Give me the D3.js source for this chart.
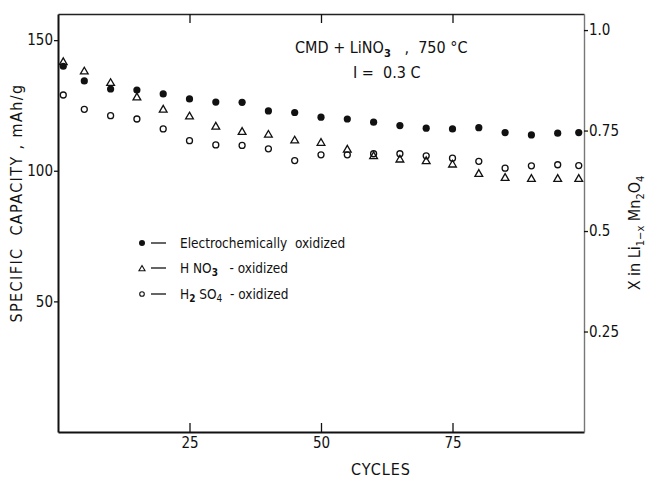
<!DOCTYPE html>
<html>
<head>
<meta charset="utf-8">
<script src="https://cdn.jsdelivr.net/npm/d3@7"></script>
<style>
  body { margin: 0; background: #fff; }
  svg { display: block; }
  text { font-family: "DejaVu Sans Condensed", "Liberation Sans Narrow", sans-serif; fill: #111; white-space: pre; }
</style>
</head>
<body>
<script>
// Cycles at which capacity was measured
var cycles = [1, 5, 10, 15, 20, 25, 30, 35, 40, 45, 50, 55, 60, 65, 70, 75, 80, 85, 90, 95, 99]
// Specific capacity, mAh/g
var electroValues = [140, 134.4, 131.3, 130.9, 129.4, 127.5, 126.3, 126.2, 122.9, 122.3, 120.5,
                     119.8, 118.6, 117.3, 116.3, 116.0, 116.5, 114.6, 113.7, 114.4, 114.6]
var hno3Values    = [141.5, 137.9, 133.5, 128.0, 123.3, 120.7, 116.8, 114.8, 113.7, 111.5, 110.6,
                     108.0, 105.5, 104.2, 103.6, 102.3, 98.7, 97.2, 96.8, 96.8, 96.8]
var h2so4Values   = [129.0, 123.5, 121.1, 119.8, 116.0, 111.5, 109.9, 109.7, 108.4, 103.9, 106.1,
                     106.1, 106.5, 106.5, 105.7, 104.8, 103.6, 101.0, 101.9, 102.3, 102.0]
// Tick labels
var xTicks      = [25, 50, 75]
var yTicks      = [50, 100, 150]
var rightTicks  = [0.25, 0.5, 0.75, 1.0]
var rightLabels = ['0.25', '0.5', '0.75', '1.0']

var width  = 648
var height = 479
var plotL = 58, plotR = 584, plotT = 14, plotB = 432

var svg = d3.select('body')
            .append('svg')
            .attr('width', width)
            .attr('height', height)

// Scales
var x  = d3.scaleLinear().domain([0, 100]).range([plotL, plotR])
var y  = d3.scaleLinear().domain([0, 160]).range([plotB, plotT])
var yR = d3.scaleLinear().domain([0, 1.04]).range([plotB, plotT])

// Axes
var gBottom = svg.append('g')
                 .attr('transform', 'translate(0,' + plotB + ')')
                 .call(d3.axisBottom(x).tickValues(xTicks).tickSizeInner(-9).tickSizeOuter(0).tickPadding(5))
var gTop = svg.append('g')
              .attr('transform', 'translate(0,' + plotT + ')')
              .call(d3.axisTop(x).tickValues(xTicks).tickSizeInner(-9).tickSizeOuter(0).tickFormat(''))
var gLeft = svg.append('g')
               .attr('transform', 'translate(' + plotL + ',0)')
               .call(d3.axisLeft(y).tickValues(yTicks).tickSizeInner(4).tickSizeOuter(0).tickPadding(1))
var gRight = svg.append('g')
                .attr('transform', 'translate(' + plotR + ',0)')
                .call(d3.axisRight(yR).tickValues(rightTicks).tickSizeInner(4).tickSizeOuter(0).tickPadding(1)
                        .tickFormat((d, i) => rightLabels[i]))

svg.selectAll('.tick text').attr('font-size', 15).attr('fill', '#111')
    .style('font-family', '"DejaVu Sans Condensed", "Liberation Sans Narrow", sans-serif')
svg.selectAll('.tick line').attr('stroke', '#111').attr('stroke-width', 1.3)
gBottom.select('.domain').attr('stroke', '#111').attr('stroke-width', 2)
gLeft.select('.domain').attr('stroke', '#111').attr('stroke-width', 2)
gTop.select('.domain').attr('stroke', '#222').attr('stroke-width', 1.5)
gRight.select('.domain').attr('stroke', '#777').attr('stroke-width', 1.4)

// Series marks
var tri = d3.symbol().type(d3.symbolTriangle).size(26)

var h2so4 = svg.append('g')
               .selectAll('circle')
               .data(cycles.map((c, i) => [c, h2so4Values[i]]))
               .enter()
               .append('circle')
               .attr('cx', d => x(d[0]))
               .attr('cy', d => y(d[1]))
               .attr('r', 3)
               .attr('fill', 'none')
               .attr('stroke', '#111')
               .attr('stroke-width', 1.3)

var hno3 = svg.append('g')
              .selectAll('path')
              .data(cycles.map((c, i) => [c, hno3Values[i]]))
              .enter()
              .append('path')
              .attr('d', tri)
              .attr('transform', d => 'translate(' + x(d[0]) + ',' + y(d[1]) + ')')
              .attr('fill', 'none')
              .attr('stroke', '#111')
              .attr('stroke-width', 1.3)

var electro = svg.append('g')
                 .selectAll('circle')
                 .data(cycles.map((c, i) => [c, electroValues[i]]))
                 .enter()
                 .append('circle')
                 .attr('cx', d => x(d[0]))
                 .attr('cy', d => y(d[1]))
                 .attr('r', 3.6)
                 .attr('fill', '#111')

// Axis titles
svg.append('text')
   .attr('transform', 'translate(22,203) rotate(-90)')
   .attr('text-anchor', 'middle')
   .attr('font-size', 16)
   .attr('letter-spacing', 1.4)
   .text('SPECIFIC  CAPACITY , mAh/g')

svg.append('text')
   .attr('x', 381)
   .attr('y', 475)
   .attr('text-anchor', 'middle')
   .attr('font-size', 16)
   .attr('letter-spacing', 1)
   .text('CYCLES')

var rt = svg.append('text')
            .attr('transform', 'translate(640,233) rotate(-90)')
            .attr('text-anchor', 'middle')
            .attr('font-size', 16)
rt.append('tspan').text('X in Li')
rt.append('tspan').attr('font-size', 11).attr('dy', 4).text('1\u2212x')
rt.append('tspan').attr('dy', -4).text(' Mn')
rt.append('tspan').attr('font-size', 11).attr('dy', 4).text('2')
rt.append('tspan').attr('dy', -4).text('O')
rt.append('tspan').attr('font-size', 11).attr('dy', 4).text('4')

// Annotation
var a1 = svg.append('text').attr('x', 295).attr('y', 53).attr('font-size', 16)
a1.append('tspan').text('CMD + LiNO')
a1.append('tspan').attr('font-size', 11).attr('dy', 4).attr('font-weight', 'bold').text('3')
a1.append('tspan').attr('dy', -4).text('   ,  750 \u00b0C')
svg.append('text').attr('x', 353).attr('y', 78).attr('font-size', 16).text('I =  0.3 C')

// Legend
var legY = [243, 268, 294]
var lg = svg.append('g')
lg.append('circle').attr('cx', 142).attr('cy', legY[0]).attr('r', 3).attr('fill', '#111')
lg.append('path').attr('d', d3.symbol().type(d3.symbolTriangle).size(16))
  .attr('transform', 'translate(142,' + (legY[1] + 1) + ')')
  .attr('fill', 'none').attr('stroke', '#111').attr('stroke-width', 1.1)
lg.append('circle').attr('cx', 142).attr('cy', legY[2]).attr('r', 2.3)
  .attr('fill', 'none').attr('stroke', '#111').attr('stroke-width', 1.1)
legY.forEach(function(yy){
    lg.append('line').attr('x1', 151).attr('x2', 166).attr('y1', yy).attr('y2', yy)
      .attr('stroke', '#111').attr('stroke-width', 1.3)
})
lg.append('text').attr('x', 180).attr('y', legY[0] + 5).attr('font-size', 13.5).text('Electrochemically  oxidized')
var l2 = lg.append('text').attr('x', 180).attr('y', legY[1] + 5).attr('font-size', 13.5)
l2.append('tspan').text('H NO')
l2.append('tspan').attr('font-size', 10).attr('dy', 3).attr('font-weight', 'bold').text('3')
l2.append('tspan').attr('dy', -3).text('   - oxidized')
var l3 = lg.append('text').attr('x', 180).attr('y', legY[2] + 5).attr('font-size', 13.5)
l3.append('tspan').text('H')
l3.append('tspan').attr('font-size', 10).attr('dy', 3).attr('font-weight', 'bold').text('2')
l3.append('tspan').attr('dy', -3).text(' SO')
l3.append('tspan').attr('font-size', 10).attr('dy', 3).text('4')
l3.append('tspan').attr('dy', -3).text('  - oxidized')
</script>
</body>
</html>
